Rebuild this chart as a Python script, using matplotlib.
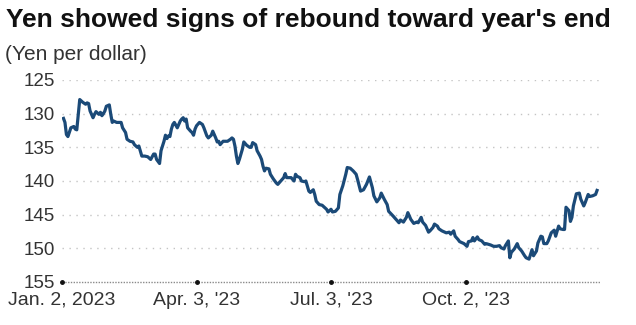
import matplotlib.pyplot as plt
import numpy as np
import pandas as pd

plt.rcParams['font.family'] = ['Liberation Sans', 'DejaVu Sans']

# days counted from Jan. 2, 2023 and the yen/dollar rate on that day
days = [1, 2, 3, 4, 6, 8, 9, 10, 12, 13, 14, 16, 17, 18, 19, 21, 22, 23, 25, 26,
        27, 28, 29, 30, 32, 33, 34, 35, 36, 37, 39, 40, 41, 43, 44, 46, 48, 49, 51, 52,
        54, 56, 58, 60, 62, 63, 64, 66, 67, 69, 70, 71, 72, 73, 74, 75, 76, 78, 79, 80,
        81, 82, 83, 84, 85, 87, 88, 89, 90, 91, 93, 95, 96, 98, 99, 101, 102, 104, 105, 106,
        107, 109, 110, 112, 114, 115, 116, 117, 118, 119, 120, 122, 123, 125, 127, 128, 129, 131, 132, 134,
        135, 136, 137, 138, 140, 141, 143, 145, 146, 148, 150, 151, 152, 154, 155, 157, 158, 159, 161, 162,
        164, 165, 167, 168, 170, 171, 172, 174, 176, 179, 180, 182, 183, 185, 187, 188, 190, 192, 193, 195,
        197, 199, 200, 202, 204, 206, 208, 210, 211, 213, 215, 216, 218, 220, 221, 224, 226, 228, 229, 231,
        233, 234, 236, 238, 240, 241, 243, 244, 246, 248, 249, 251, 252, 254, 255, 257, 258, 260, 262, 263,
        265, 266, 268, 269, 271, 272, 274, 275, 277, 278, 279, 281, 282, 284, 286, 287, 290, 292, 294, 296,
        297, 299, 300, 302, 303, 304, 306, 308, 309, 311, 313, 314, 316, 318, 319, 321, 322, 324, 325, 326,
        328, 329, 331, 333, 334, 336, 337, 339, 340, 341, 343, 344, 345, 346, 348, 350, 351, 353, 354, 356,
        357, 359, 361, 362]
rate = [130.7, 131.3, 133.1, 133.4, 132.1, 131.9, 132.3, 132.4, 127.9, 128.1, 128.3, 128.6, 128.4, 128.5, 129.6, 130.6, 130.1, 129.7, 130.1, 129.8,
        130.3, 130.0, 129.6, 128.9, 128.7, 130.1, 131.3, 131.1, 131.2, 131.3, 131.3, 131.3, 132.1, 132.8, 133.8, 134.1, 134.2, 134.6, 135.0, 134.8,
        136.3, 136.3, 136.4, 136.8, 136.0, 136.0, 136.8, 137.4, 135.5, 134.1, 133.2, 133.7, 133.3, 133.4, 132.3, 131.6, 131.3, 132.1, 131.6, 131.1,
        130.8, 130.6, 131.1, 130.8, 132.1, 132.6, 132.8, 133.2, 132.3, 131.8, 131.3, 131.6, 132.1, 133.3, 133.6, 133.2, 132.6, 133.6, 134.2, 134.1,
        134.6, 134.1, 134.1, 134.1, 133.8, 133.6, 133.8, 134.8, 136.3, 137.4, 136.8, 135.3, 134.2, 134.7, 135.0, 135.0, 134.3, 134.6, 135.5, 136.3,
        136.8, 137.8, 138.5, 138.1, 138.2, 139.0, 139.7, 140.3, 140.5, 140.0, 139.5, 138.9, 139.5, 139.5, 139.5, 140.0, 139.0, 139.3, 139.5, 140.0,
        140.1, 140.0, 141.5, 141.7, 141.3, 142.0, 143.0, 143.5, 143.6, 144.2, 144.6, 144.2, 144.6, 144.5, 144.0, 142.0, 140.7, 139.0, 138.0, 138.1,
        138.5, 139.0, 139.8, 141.5, 141.3, 140.5, 139.4, 141.0, 142.2, 143.1, 142.5, 141.8, 142.7, 143.5, 144.5, 145.2, 145.7, 146.2, 145.8, 146.1,
        145.4, 144.7, 145.7, 146.3, 146.1, 146.2, 145.4, 146.1, 146.6, 147.6, 147.4, 146.9, 146.4, 146.7, 147.1, 147.4, 147.5, 147.7, 147.6, 147.9,
        147.4, 148.2, 148.7, 149.0, 149.2, 149.3, 149.7, 149.0, 148.9, 148.4, 148.9, 148.3, 148.7, 148.9, 149.4, 149.3, 149.5, 149.7, 149.7, 149.6,
        149.9, 150.1, 149.6, 148.9, 151.4, 150.6, 150.1, 149.3, 149.9, 150.4, 151.1, 151.4, 151.6, 150.2, 151.1, 150.4, 149.2, 148.2, 148.3, 149.3,
        149.3, 148.9, 147.7, 147.3, 148.2, 146.7, 147.1, 147.2, 147.2, 143.9, 144.4, 146.0, 145.4, 143.7, 141.9, 141.8, 142.7, 143.7, 143.2, 142.0,
        142.3, 142.2, 142.0, 141.4]

yticks = [125, 130, 135, 140, 145, 150, 155]
xtick_dates = ['2023-01-02', '2023-04-03', '2023-07-03', '2023-10-02']
xtick_labels = ["Jan. 2, 2023", "Apr. 3, '23", "Jul. 3, '23", "Oct. 2, '23"]

start = pd.Timestamp('2023-01-02')
dates = start + pd.to_timedelta(days, unit='D')
tick_dates = pd.to_datetime(xtick_dates)

fig = plt.figure(figsize=(6.36, 3.25), dpi=100)
ax = fig.add_axes([62 / 636, 1 - 282 / 325, 538 / 636, 202 / 325])

# dotted guides, darker one along the bottom
for y in yticks[:-1]:
    ax.axhline(y, color='#c4c4c4', lw=1.0, ls=(0, (1, 4)), zorder=1)
ax.axhline(155, color='#8a8a8a', lw=1.0, ls=(0, (1, 1)), zorder=1, clip_on=False)

ax.plot(dates, rate, color='#1b4a78', lw=2.3, solid_joinstyle='round', zorder=3)
ax.plot(tick_dates, [155] * len(tick_dates), 'o', color='#111111', ms=2.5,
        clip_on=False, zorder=4)

ax.set_ylim(155, 125)
ax.set_xlim(start, start + pd.Timedelta(days=364))
ax.set_yticks(yticks)
ax.set_yticklabels([str(v) for v in yticks], fontsize=13.5, color='#333333')
ax.set_xticks(tick_dates)
ax.set_xticklabels(xtick_labels, fontsize=14, color='#333333')
ax.tick_params(axis='y', length=0, pad=5)
ax.tick_params(axis='x', length=0, pad=7)
for s in ax.spines.values():
    s.set_visible(False)

fig.text(6 / 636, 1 - 27 / 325, "Yen showed signs of rebound toward year's end",
         fontsize=19, fontweight='bold', va='baseline', ha='left', color='#111111')
fig.text(5 / 636, 1 - 60 / 325, "(Yen per dollar)", fontsize=15,
         va='baseline', ha='left', color='#333333')

fig.savefig('out.png', dpi=100, facecolor='white')
